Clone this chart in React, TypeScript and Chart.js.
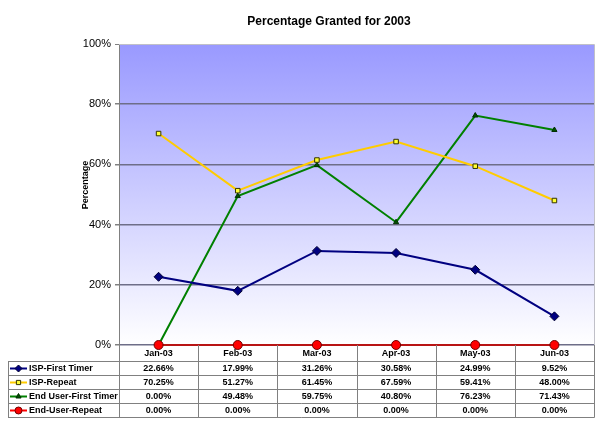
import React, { useEffect, useRef } from "react";
import { Chart, registerables } from "chart.js";

Chart.register(...registerables);

// ---- data ----
const categories = ["Jan-03", "Feb-03", "Mar-03", "Apr-03", "May-03", "Jun-03"];
const seriesNames = ["ISP-First Timer", "ISP-Repeat", "End User-First Timer", "End-User-Repeat"];
const ispFirstTimer = [22.66, 17.99, 31.26, 30.58, 24.99, 9.52];
const ispRepeat = [70.25, 51.27, 61.45, 67.59, 59.41, 48.0];
const endUserFirstTimer = [0.0, 49.48, 59.75, 40.8, 76.23, 71.43];
const endUserRepeat = [0.0, 0.0, 0.0, 0.0, 0.0, 0.0];
const seriesValues = [ispFirstTimer, ispRepeat, endUserFirstTimer, endUserRepeat];
const yMin = 0;
const yMax = 100;
const yStep = 20;
const chartTitle = "Percentage Granted for 2003";
const yAxisTitle = "Percentage";

// ---- styles ----
const FONT = '"Liberation Sans", Arial, Helvetica, sans-serif';
const seriesStyles = [
  { line: "#000080", fill: "#000080", stroke: "#000033", shape: "rectRot", r: 4.5, lr: 3.5, order: 1 },
  { line: "#ffcc00", fill: "#ffff33", stroke: "#333300", shape: "rect", r: 3.2, lr: 3, order: 2 },
  { line: "#008000", fill: "#005000", stroke: "#003000", shape: "triangle", r: 3, lr: 3, order: 3 },
  { line: "#b81414", fill: "#ff0000", stroke: "#700000", shape: "circle", r: 4.5, lr: 3.5, order: 0 },
];
const legendLineColors = ["#000080", "#ffcc00", "#008000", "#ff0000"];

function drawMarker(ctx: CanvasRenderingContext2D, shape: string, x: number, y: number, r: number, fill: string, stroke: string) {
  ctx.beginPath();
  if (shape === "rectRot") {
    ctx.moveTo(x, y - r);
    ctx.lineTo(x + r, y);
    ctx.lineTo(x, y + r);
    ctx.lineTo(x - r, y);
    ctx.closePath();
  } else if (shape === "rect") {
    const s = r * Math.SQRT1_2;
    ctx.rect(x - s, y - s, 2 * s, 2 * s);
  } else if (shape === "triangle") {
    ctx.moveTo(x, y - r);
    ctx.lineTo(x + r * 0.866, y + r * 0.5);
    ctx.lineTo(x - r * 0.866, y + r * 0.5);
    ctx.closePath();
  } else {
    ctx.arc(x, y, r, 0, Math.PI * 2);
  }
  ctx.fillStyle = fill;
  ctx.fill();
  ctx.lineWidth = 1;
  ctx.strokeStyle = stroke;
  ctx.stroke();
}

const decorPlugin = {
  id: "decor",
  beforeDraw(chart: any) {
    const { ctx, chartArea: a } = chart;
    ctx.save();
    ctx.fillStyle = "#ffffff";
    ctx.fillRect(0, 0, chart.width, chart.height);
    const g = ctx.createLinearGradient(0, a.top, 0, a.bottom);
    g.addColorStop(0, "#9999ff");
    g.addColorStop(1, "#ffffff");
    ctx.fillStyle = g;
    ctx.fillRect(a.left, a.top, a.right - a.left, a.bottom - a.top);
    ctx.restore();
  },
  afterDraw(chart: any) {
    const { ctx, chartArea: a } = chart;
    const xs = chart.scales.x;
    ctx.save();

    // plot border top / right
    ctx.strokeStyle = "#c0c0c8";
    ctx.lineWidth = 1;
    ctx.beginPath();
    ctx.moveTo(a.left, a.top + 0.5);
    ctx.lineTo(a.right + 0.5, a.top + 0.5);
    ctx.lineTo(a.right + 0.5, a.bottom);
    ctx.stroke();

    // title
    ctx.fillStyle = "#000";
    ctx.font = `bold 12px ${FONT}`;
    ctx.textAlign = "center";
    ctx.textBaseline = "middle";
    ctx.fillText(chartTitle, 329, 22);

    // y axis title
    ctx.save();
    ctx.translate(86, 185);
    ctx.rotate(-Math.PI / 2);
    ctx.font = `bold 9px ${FONT}`;
    ctx.fillText(yAxisTitle, 0, 0);
    ctx.restore();

    // data table
    const left = xs.left;
    const right = xs.right;
    const n = categories.length;
    const colW = (right - left) / n;
    const top0 = a.bottom;
    const headerBottom = top0 + 16;
    const rowH = 14;
    const rows = seriesNames.length;
    const tableBottom = headerBottom + rows * rowH;
    const legendLeft = 8;

    ctx.strokeStyle = "#808080";
    ctx.lineWidth = 1;
    ctx.beginPath();
    for (let r = 0; r <= rows; r++) {
      const y = Math.round(headerBottom + r * rowH) + 0.5;
      ctx.moveTo(legendLeft, y);
      ctx.lineTo(right + 0.5, y);
    }
    ctx.moveTo(legendLeft + 0.5, headerBottom);
    ctx.lineTo(legendLeft + 0.5, tableBottom + 0.5);
    for (let k = 0; k <= n; k++) {
      const x = Math.round(left + k * colW) + 0.5;
      ctx.moveTo(x, top0);
      ctx.lineTo(x, tableBottom + 0.5);
    }
    ctx.stroke();

    ctx.font = `bold 9px ${FONT}`;
    ctx.textBaseline = "middle";
    for (let r = 0; r < rows; r++) {
      const cy = headerBottom + r * rowH + rowH / 2 + 0.5;
      const st = seriesStyles[r];
      // legend sample
      ctx.strokeStyle = legendLineColors[r];
      ctx.lineWidth = 2;
      ctx.beginPath();
      ctx.moveTo(10, cy);
      ctx.lineTo(27, cy);
      ctx.stroke();
      drawMarker(ctx, st.shape, 18.5, cy, st.lr, st.fill, st.stroke);
      ctx.fillStyle = "#000";
      ctx.textAlign = "left";
      ctx.fillText(seriesNames[r], 29, cy);
      ctx.textAlign = "center";
      for (let c = 0; c < n; c++) {
        const cx = left + (c + 0.5) * colW;
        ctx.fillText(seriesValues[r][c].toFixed(2) + "%", cx, cy);
      }
    }
    ctx.restore();
  },
};

export default function App() {
  const ref = useRef<HTMLCanvasElement>(null);
  useEffect(() => {
    document.body.style.margin = "0";
    const canvas = ref.current;
    if (!canvas) return;
    const datasets = seriesNames.map((name, i) => {
      const st = seriesStyles[i];
      return {
        label: name,
        data: seriesValues[i],
        borderColor: st.line,
        backgroundColor: st.fill,
        borderWidth: 2,
        pointStyle: st.shape,
        pointRadius: st.r,
        pointHoverRadius: st.r,
        pointBackgroundColor: st.fill,
        pointBorderColor: st.stroke,
        pointBorderWidth: 1,
        tension: 0,
        fill: false,
        clip: false as any,
        order: st.order,
      };
    });
    const chart = new Chart(canvas, {
      type: "line",
      data: { labels: categories, datasets: datasets as any },
      options: {
        animation: false,
        responsive: false,
        layout: { padding: { top: 44, right: 6, bottom: 63, left: 0 } },
        plugins: {
          legend: { display: false },
          title: { display: false },
          tooltip: { enabled: false },
        },
        scales: {
          x: {
            offset: true,
            grid: { display: false, drawTicks: false },
            border: { display: false },
            ticks: {
              padding: 3,
              color: "#000",
              font: { family: FONT, size: 9, weight: "bold" },
              maxRotation: 0,
              autoSkip: false,
            },
            afterFit: (s: any) => {
              s.height = 16;
            },
          },
          y: {
            min: yMin,
            max: yMax,
            ticks: {
              stepSize: yStep,
              padding: 4,
              color: "#000",
              font: { family: FONT, size: 11 },
              callback: (v: any) => v + "%",
            },
            grid: {
              color: (c: any) => (c.tick && c.tick.value === yMax ? "#c0c0c8" : "#6e6e88"),
              lineWidth: (c: any) => (c.tick && c.tick.value === yMax ? 1 : 1.5),
              tickLength: 4,
              tickColor: "#808080",
            },
            border: { display: true, color: "#808080", width: 1 },
            afterFit: (s: any) => {
              s.width = 119;
            },
          },
        },
      },
      plugins: [decorPlugin],
    });
    return () => chart.destroy();
  }, []);
  return <canvas ref={ref} width={600} height={424} style={{ display: "block" }} />;
}
